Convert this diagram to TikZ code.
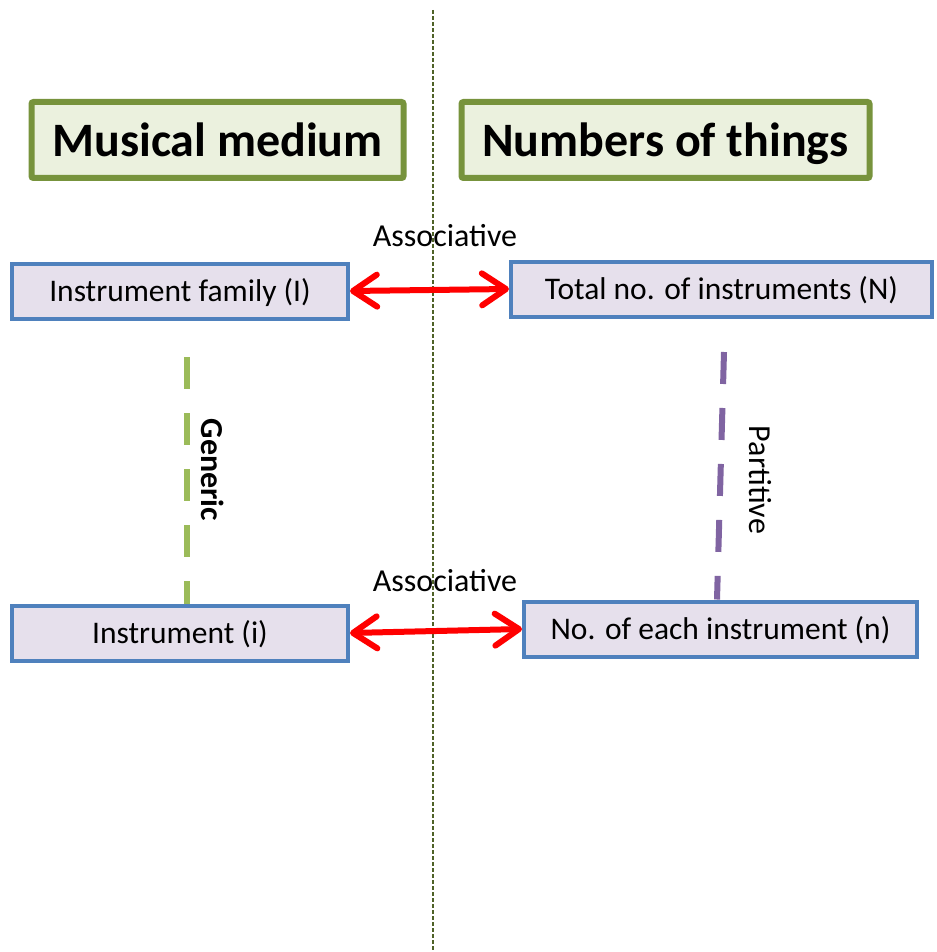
\documentclass[tikz,border=0pt]{standalone}
\usepackage{fontspec}
\setmainfont{Carlito}
\usepackage{tikz}
\usetikzlibrary{arrows.meta}
\definecolor{olive}{HTML}{77933C}
\definecolor{olivefill}{HTML}{EBF1DE}
\definecolor{olivedark}{HTML}{4F6228}
\definecolor{boxblue}{HTML}{4F81BD}
\definecolor{lavender}{HTML}{E6E0EC}
\definecolor{leafgreen}{HTML}{9BBB59}
\definecolor{violet}{HTML}{8064A2}
\tikzstyle{titlebox} = [draw=olive, line width=6pt, rectangle, rounded corners=2pt, fill=olivefill, minimum height=76pt, inner xsep=0pt, text height=38pt, text depth=4pt, font=\fontsize{48}{56}\selectfont\bfseries]
\tikzstyle{itembox} = [draw=boxblue, line width=4pt, rectangle, fill=lavender, minimum height=55pt, inner xsep=0pt, text height=24pt, text depth=3pt, font=\fontsize{31.5}{38}\selectfont]
\tikzstyle{assoc} = [draw=red, line width=6pt, {Straight Barb[length=24pt,width=32pt,round]}-{Straight Barb[length=24pt,width=32pt,round]}]
\tikzstyle{relation} = [line width=6pt, dash pattern=on 32pt off 24pt]
\tikzstyle{label} = [font=\fontsize{32}{38}\selectfont]

\begin{document}
\begin{tikzpicture}[x=1pt, y=-1pt]
\useasboundingbox (0,0) rectangle (936,952);
% divider between the two sides
\draw[olivedark, line width=1.5pt, dash pattern=on 4pt off 2pt] (433,10) -- (433,952);
% headings
\node [titlebox, minimum width=372pt] (medium) at (217.5,140) {Musical medium};
\node [titlebox, minimum width=408pt] (numbers) at (665.5,140) {Numbers of things};
% upper level
\node [itembox, minimum width=336pt] (family) at (180,291) {Instrument family (I)};
\node [itembox, minimum width=421pt] (total) at (721.5,289) {Total no. of instruments (N)};
% lower level
\node [itembox, minimum width=336pt] (instr) at (180,633) {Instrument (i)};
\node [itembox, minimum width=393pt] (each) at (720.5,629) {No. of each instrument (n)};
% associative links
\draw [assoc] (family.east) -- (total.west);
\node [label] (assoc1) at (445,236) {Associative};
\draw [assoc] (instr.east) -- (each.west);
\node [label] (assoc2) at (445,581) {Associative};
% hierarchy links
\coordinate (gtop) at (187,357);
\draw [relation, leafgreen] (gtop) -- (gtop |- instr.north);
\node [label, font=\fontsize{32}{38}\selectfont\bfseries, rotate=-90] (generic) at (213,470) {Generic};
\coordinate (ptop) at (724,352);
\coordinate (pbot) at ([xshift=-3.5pt]each.north);
\draw [relation, violet] (ptop) -- (pbot);
\node [label, rotate=-90] (partitive) at (760,480) {Partitive};
\end{tikzpicture}
\end{document}
